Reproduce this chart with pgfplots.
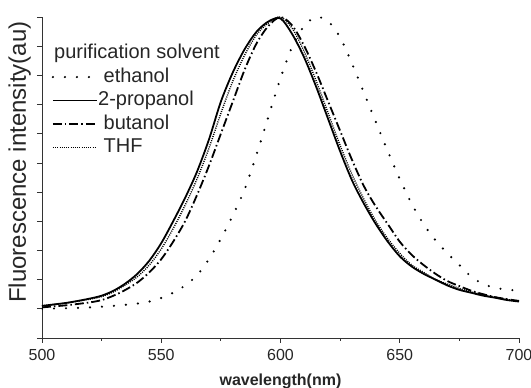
\documentclass[border=0pt]{standalone}
\usepackage{fontspec}
\setmainfont{Liberation Sans}
\usepackage{pgfplots}
\pgfplotsset{compat=1.18}
\begin{document}
\begin{tikzpicture}
\begin{axis}[
 scale only axis, width=477pt, height=321pt,
 xmin=500, xmax=700, ymin=-0.1, ymax=1.0,
 axis x line*=bottom, axis y line*=left,
 axis line style={line width=0.8pt, black!80},
 xtick={500,550,600,650,700}, minor xtick={525,575,625,675},
 ytick={-0.1,0,0.1,0.2,0.3,0.4,0.5,0.6,0.7,0.8,0.9,1.0}, yticklabels={},
 tick align=outside, major tick length=5pt, minor tick length=3pt,
 tick style={line width=0.8pt, black!80},
 xticklabel style={font=\fontsize{16}{18}\selectfont, text=black!85, yshift=-3pt},
 /pgf/number format/assume math mode=true,
 xlabel={\textbf{wavelength(nm)}},
 xlabel style={font=\fontsize{16}{18}\selectfont, text=black!85, yshift=-6pt},
 ylabel={Fluorescence intensity(au)},
 ylabel style={font=\fontsize{24}{26}\selectfont, text=black!85, at={(axis description cs:-0.016,0.548)}},
 legend style={draw=none, fill=none, at={(axis description cs:0.02,0.918)}, anchor=north west,
   font=\fontsize{20}{22}\selectfont, row sep=3.5pt, column sep=0pt, inner sep=0pt, text=black!85,
   nodes={inner sep=0pt, text height=15pt, text depth=5pt}},
 legend cell align=left,
 legend image code/.code={\draw[#1] (0pt,0pt) -- (44pt,0pt);},
 after end axis/.code={\coordinate (BL) at (rel axis cs:0,0); \coordinate (TR) at (rel axis cs:1,1);},
]
\addlegendimage{empty legend}
\addlegendentry{\hspace{-44pt}purification solvent}
% ethanol
\addplot[black, line width=2.4pt, line cap=round, dash pattern=on 0pt off 12pt, smooth] coordinates {
(500,0.0) (510,0.002) (520,0.005) (530,0.01) (540,0.018) (545,0.025) (550,0.037) (555,0.055)
(560,0.08) (565,0.115) (570,0.17) (575,0.24) (580,0.32) (585,0.41) (590,0.53) (595,0.66)
(600,0.79) (605,0.90) (610,0.97) (615,1.0) (620,0.985) (625,0.93) (630,0.84) (635,0.74)
(640,0.64) (645,0.54) (650,0.445) (655,0.36) (660,0.29) (665,0.235) (670,0.19) (675,0.15)
(680,0.11) (685,0.085) (690,0.072) (695,0.066) (700,0.062)};
\addlegendentry{\ ethanol}
% 2-propanol
\addplot[black, line width=1.8pt, smooth] coordinates {
(500,0.01) (505,0.015) (510,0.02) (515,0.027) (520,0.035) (525,0.045) (530,0.062) (535,0.087)
(540,0.12) (545,0.165) (550,0.225) (555,0.30) (560,0.38) (565,0.47) (570,0.58) (575,0.71)
(580,0.81) (585,0.89) (590,0.95) (595,0.985) (600,0.995) (605,0.94) (610,0.86) (615,0.76)
(620,0.65) (625,0.54) (630,0.44) (635,0.36) (640,0.29) (645,0.23) (650,0.18) (655,0.145)
(660,0.12) (665,0.10) (670,0.08) (675,0.065) (680,0.055) (685,0.045) (690,0.038) (695,0.03) (700,0.025)};
\addlegendentry{2-propanol}
% butanol
\addplot[black, line width=1.8pt, dash pattern=on 9pt off 3pt on 1.5pt off 3pt, smooth] coordinates {
(500,0.005) (510,0.012) (520,0.022) (525,0.03) (530,0.045) (535,0.065) (540,0.09) (545,0.125)
(550,0.17) (555,0.23) (560,0.30) (565,0.39) (570,0.49) (575,0.60) (580,0.71) (585,0.82)
(590,0.91) (595,0.97) (600,1.0) (605,0.97) (610,0.90) (615,0.81) (620,0.71) (625,0.61)
(630,0.51) (635,0.42) (640,0.35) (645,0.29) (650,0.23) (655,0.185) (660,0.15) (665,0.12)
(670,0.095) (675,0.078) (680,0.062) (685,0.05) (690,0.04) (695,0.033) (700,0.027)};
\addlegendentry{\ butanol}
% THF
\addplot[black, line width=1.4pt, dash pattern=on 1pt off 1.2pt, smooth] coordinates {
(500,0.01) (510,0.02) (520,0.033) (525,0.042) (530,0.058) (535,0.082) (540,0.11) (545,0.15)
(550,0.205) (555,0.275) (560,0.355) (565,0.445) (570,0.55) (575,0.67) (580,0.78) (585,0.87)
(590,0.94) (595,0.98) (600,1.0) (605,0.96) (610,0.88) (615,0.78) (620,0.67) (625,0.56)
(630,0.46) (635,0.375) (640,0.30) (645,0.24) (650,0.19) (655,0.15) (660,0.125) (665,0.10)
(670,0.085) (675,0.07) (680,0.058) (685,0.048) (690,0.04) (695,0.032) (700,0.027)};
\addlegendentry{\ THF}
\end{axis}
\pgfresetboundingbox
\path ([xshift=-42pt,yshift=-50pt]BL) rectangle ([xshift=12pt,yshift=17pt]TR);
\end{tikzpicture}
\end{document}
